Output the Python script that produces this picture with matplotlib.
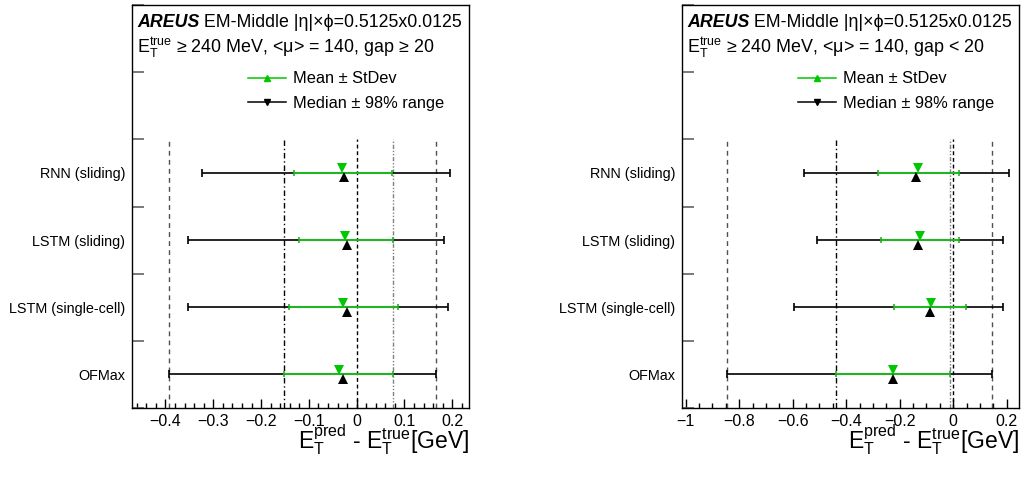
import matplotlib
matplotlib.use("Agg")
import matplotlib.pyplot as plt
from matplotlib.lines import Line2D
from matplotlib.ticker import MultipleLocator, FuncFormatter

plt.rcParams['font.family'] = ['Liberation Sans', 'DejaVu Sans']
plt.rcParams['mathtext.fontset'] = 'custom'
plt.rcParams['mathtext.rm'] = 'Liberation Sans'
plt.rcParams['mathtext.it'] = 'Liberation Sans:italic'
plt.rcParams['mathtext.bf'] = 'Liberation Sans:bold'

# rows from bottom to top
methods = ["OFMax", "LSTM (single-cell)", "LSTM (sliding)", "RNN (sliding)"]

# gap >= 20
mean_a = [-0.038, -0.0286, -0.024, -0.030]
std_lo_a = [-0.151, -0.141, -0.1205, -0.1306]
std_hi_a = [0.075, 0.0855, 0.075, 0.073]
median_a = [-0.029, -0.020, -0.020, -0.026]
r98_lo_a = [-0.392, -0.352, -0.352, -0.323]
r98_hi_a = [0.167, 0.191, 0.183, 0.195]

# gap < 20
mean_b = [-0.2256, -0.0847, -0.1246, -0.133]
std_lo_b = [-0.44, -0.223, -0.269, -0.282]
std_hi_b = [-0.0125, 0.0487, 0.021, 0.021]
median_b = [-0.226, -0.086, -0.131, -0.1395]
r98_lo_b = [-0.844, -0.597, -0.511, -0.557]
r98_hi_b = [0.146, 0.187, 0.185, 0.2095]

GREEN = '#00c800'
GREEN_BAR = '#22b422'


def tick_fmt(v, pos):
    s = "%g" % round(v, 6)
    if s == "-0":
        s = "0"
    return s.replace("-", "\u2212")


def draw_panel(ax, mean, std_lo, std_hi, median, r98_lo, r98_hi, gap_text, xlim, major, minor):
    ys = [i + 0.5 for i in range(len(methods))]
    off = 0.068

    # reference lines taken from the OFMax row
    ax.vlines(r98_lo[0], 0, 4, colors='#505050', lw=1.0, linestyles=(0, (3.5, 3)))
    ax.vlines(r98_hi[0], 0, 4, colors='#505050', lw=1.0, linestyles=(0, (3.5, 3)))
    ax.vlines(std_lo[0], 0, 4, colors='black', lw=1.0, linestyles=(0, (4, 2, 1, 2)))
    ax.vlines(std_hi[0], 0, 4, colors='#808080', lw=1.0, linestyles=(0, (3, 1.3, 1, 1.3, 1, 1.3)))
    ax.vlines(0, 0, 4, colors='black', lw=1.0, linestyles=(0, (2.8, 2)))

    for i, y in enumerate(ys):
        ax.errorbar(median[i], y, xerr=[[median[i] - r98_lo[i]], [r98_hi[i] - median[i]]],
                    fmt='none', ecolor='black', elinewidth=1.2, capsize=3, capthick=1.2, zorder=3)
        ax.errorbar(mean[i], y, xerr=[[mean[i] - std_lo[i]], [std_hi[i] - mean[i]]],
                    fmt='none', ecolor=GREEN_BAR, elinewidth=1.5, capsize=2.2, capthick=1.2, zorder=4)
        ax.plot(mean[i], y + off, 'v', color=GREEN, ms=6.8, mew=0, zorder=5)
        ax.plot(median[i], y - off, '^', color='black', ms=6.8, mew=0, zorder=5)

    ax.set_xlim(*xlim)
    ax.set_ylim(0, 6)
    ax.set_yticks(ys, methods, fontsize=10.4)
    ax.set_yticks(range(7), minor=True)
    ax.tick_params(axis='y', which='major', length=0, pad=5)
    ax.tick_params(axis='y', which='minor', direction='in', length=8.5, width=1.1, color='#555555')
    ax.xaxis.set_major_locator(MultipleLocator(major))
    ax.xaxis.set_minor_locator(MultipleLocator(minor))
    ax.xaxis.set_major_formatter(FuncFormatter(tick_fmt))
    ax.tick_params(axis='x', which='major', direction='in', length=6.5, width=1, labelsize=11.5, pad=4)
    ax.tick_params(axis='x', which='minor', direction='in', length=3.5, width=1)
    for s in ax.spines.values():
        s.set_linewidth(1.0)

    ax.set_xlabel(r"E$_{\mathrm{T}}^{\mathrm{pred}}$ - E$_{\mathrm{T}}^{\mathrm{true}}$[GeV]",
                  fontsize=16.5, loc='right', va='baseline')
    ax.xaxis.set_label_coords(1.0, -0.1)

    t1 = ax.text(0.015, 0.945, "AREUS", transform=ax.transAxes, fontsize=12.8,
                 fontweight='bold', fontstyle='italic', va='baseline')
    ax.annotate(" EM-Middle |η|×ϕ=0.5125x0.0125", xy=(1, 0), xycoords=t1,
                fontsize=12.8, va='bottom')
    ax.text(0.015, 0.881, r"E$_{\mathrm{T}}^{\mathrm{true}}$ ≥ 240 MeV, <μ> = 140, " + gap_text,
            transform=ax.transAxes, fontsize=12.9, va='baseline')

    handles = [Line2D([], [], color=GREEN, marker='^', ms=4.8, lw=1.1),
               Line2D([], [], color='black', marker='v', ms=4.8, lw=1.1)]
    ax.legend(handles, ["Mean ± StDev", "Median ± 98% range"], loc='upper left',
              bbox_to_anchor=(0.344, 0.835), frameon=False, fontsize=11.8,
              borderpad=0, borderaxespad=0, handlelength=2.3, handletextpad=0.43,
              labelspacing=0.58)


fig = plt.figure(figsize=(10.24, 4.8), dpi=100)
ax1 = fig.add_axes([132 / 1024, 0.15, 337 / 1024, 403 / 480])
ax2 = fig.add_axes([682 / 1024, 0.15, 337 / 1024, 403 / 480])

draw_panel(ax1, mean_a, std_lo_a, std_hi_a, median_a, r98_lo_a, r98_hi_a,
           "gap ≥ 20", (-0.47, 0.235), 0.1, 0.02)
draw_panel(ax2, mean_b, std_lo_b, std_hi_b, median_b, r98_lo_b, r98_hi_b,
           "gap < 20", (-1.014, 0.246), 0.2, 0.05)

fig.savefig("out.png", dpi=100)
